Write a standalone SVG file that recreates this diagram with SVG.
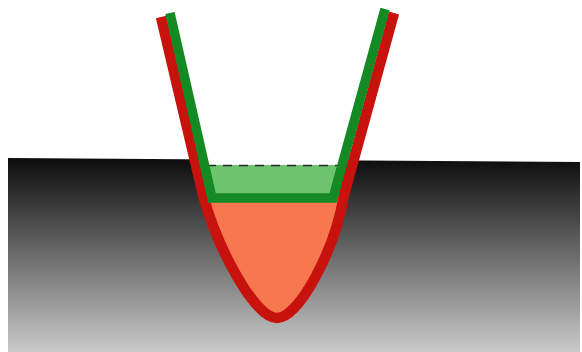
<svg xmlns="http://www.w3.org/2000/svg" width="582" height="352" viewBox="0 0 582 352">
  <defs>
    <linearGradient id="ground" x1="0" y1="0" x2="0" y2="1">
      <stop offset="0" stop-color="#0c0c0c"/>
      <stop offset="1" stop-color="#cacaca"/>
    </linearGradient>
  </defs>
  <style>
    .red { fill: none; stroke: #c8120e; stroke-width: 10.5; stroke-linejoin: round; }
    .green { fill: none; stroke: #138a24; stroke-width: 9.5; stroke-linejoin: miter; }
  </style>
  <rect width="582" height="352" fill="#ffffff"/>
  <g id="ground-block">
    <polygon points="8,158 580,162 580,352 8,352" fill="url(#ground)"/>
  </g>
  <g id="vessel">
    <polygon points="195,150 352,150 341,167 206,167" fill="#ffffff"/>
    <path d="M203,195 C218,250 255,318 277,318 C299,318 335,250 344,195 Z" fill="#f7784f"/>
    <polygon points="205,165 341,165 333,198 212,198" fill="#6dc46d"/>
    <line x1="207" y1="165.5" x2="339" y2="165.5" stroke="#2a2a2a" stroke-width="1.5" stroke-dasharray="9 7"/>
    <path class="red" d="M161,17 L203,195 C218,250 255,318 277,318 C299,318 335,250 344,195 L394,13"/>
    <path class="green" d="M170,13 L212,198 L333,198 L385,9"/>
  </g>
</svg>
